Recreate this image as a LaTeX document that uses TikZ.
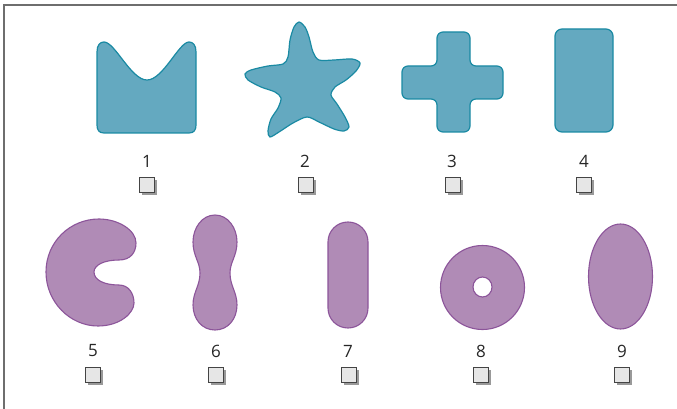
\documentclass[tikz,border=0pt]{standalone}
\usepackage{fontspec}
\setmainfont{Open Sans}
\definecolor{bfill}{HTML}{64A9C0}
\definecolor{bdraw}{HTML}{1A8AA3}
\definecolor{pfill}{HTML}{B08BB6}
\definecolor{pdraw}{HTML}{8C559A}
\definecolor{frame}{HTML}{6E6E6E}
\definecolor{boxfill}{HTML}{E6E6E6}
\definecolor{boxdraw}{HTML}{444444}
\begin{document}
\begin{tikzpicture}[x=1pt,y=-1pt,
  blue shape/.style={fill=bfill,draw=bdraw,line width=1.2pt},
  purple shape/.style={fill=pfill,draw=pdraw,line width=1.1pt},
  numlabel/.style={font=\fontsize{17}{17}\selectfont,text=black!85,inner sep=0pt},
  checkbox/.style={minimum width=15pt,minimum height=15pt,inner sep=0pt,fill=boxfill,draw=boxdraw,line width=1pt},
  boxshadow/.style={fill=black!40,draw=none}]
\useasboundingbox (0,0) rectangle (677,409);
% frame
\draw[frame,line width=1.8pt] (4.3,409) -- (4.3,5) -- (677,5);

% shape 1
\path[blue shape] (97,125) -- (97,52) .. controls (97,45) and (100,42) .. (104,42)
  .. controls (115,42) and (131,80) .. (147,80)
  .. controls (163,80) and (179,42) .. (189,42)
  .. controls (193,42) and (196,45) .. (196,52) -- (196,125)
  .. controls (196,130) and (194,133) .. (189,133) -- (104,133)
  .. controls (99,133) and (97,130) .. (97,125) -- cycle;

% shape 2 star
\path[blue shape] plot[smooth cycle,tension=0.5] coordinates {
 (299,22) (305,27) (309,37) (313,52) (319,60) (334,60) (352,59) (360,63) (356,71) (346,80)
 (335,87) (331,95) (337,104) (345,117) (349,127) (344,131) (334,129) (319,122) (307,117)
 (293,123) (279,132) (270,137) (268,131) (271,119) (278,108) (281,98) (275,92) (261,87)
 (248,80) (245,74) (251,70) (268,66) (283,64) (288,57) (290,40) (294,27)};

% shape 3 cross
\path[blue shape,rounded corners=6pt] (437,32) -- (470,32) -- (470,66) -- (503,66) -- (503,99)
  -- (470,99) -- (470,132) -- (437,132) -- (437,99) -- (402,99) -- (402,66) -- (437,66) -- cycle;

% shape 4
\path[blue shape,rounded corners=7pt] (555,29) rectangle (613,132);

% shape 5 kidney
\path[purple shape] (99,219) .. controls (118,219) and (136,230) .. (136,243)
  .. controls (136,253) and (130,260) .. (119,260)
  .. controls (104,260) and (94,265) .. (94,272)
  .. controls (94,280) and (104,285) .. (119,285)
  .. controls (129,285) and (134,294) .. (134,303)
  .. controls (134,313) and (120,326) .. (98,326)
  .. controls (70,326) and (46,302) .. (46,272)
  .. controls (46,242) and (70,219) .. (99,219) -- cycle;

% shape 6 peanut
\path[purple shape] (215,215) .. controls (228,215) and (237,228) .. (237,242)
  .. controls (237,256) and (230,262) .. (230,273)
  .. controls (230,286) and (237,292) .. (237,305)
  .. controls (237,319) and (228,330) .. (215,330)
  .. controls (202,330) and (193,319) .. (193,305)
  .. controls (193,292) and (200,286) .. (200,273)
  .. controls (200,262) and (193,256) .. (193,242)
  .. controls (193,228) and (202,215) .. (215,215) -- cycle;

% shape 7 stadium
\path[purple shape,rounded corners=19.9pt] (328,222) rectangle (368,328);

% shape 8 donut
\path[purple shape,even odd rule] (482.5,287.5) circle[radius=42] (482.5,287) ellipse[x radius=9.5,y radius=10];

% shape 9 ellipse
\path[purple shape] (620.5,276.5) ellipse[x radius=32,y radius=52.5];

% labels
\foreach \n/\x/\y in {1/147/161,2/305/161,3/452/161,4/584/161,5/93/351,6/216/351,7/348/351,8/481/351,9/622/351}{
  \node[numlabel] (lab\n) at (\x,\y) {\n};
}
% checkboxes
\foreach \n/\x/\y in {1/147/185,2/306/185,3/453/185,4/584/185,5/93/375,6/216/375,7/349/375,8/481/375,9/622/375}{
  \fill[boxshadow] (\x-7.5+2.5,\y-7.5+2.5) rectangle (\x+7.5+2.5,\y+7.5+2.5);
  \node[checkbox] (cb\n) at (\x,\y) {};
}
\end{tikzpicture}
\end{document}
